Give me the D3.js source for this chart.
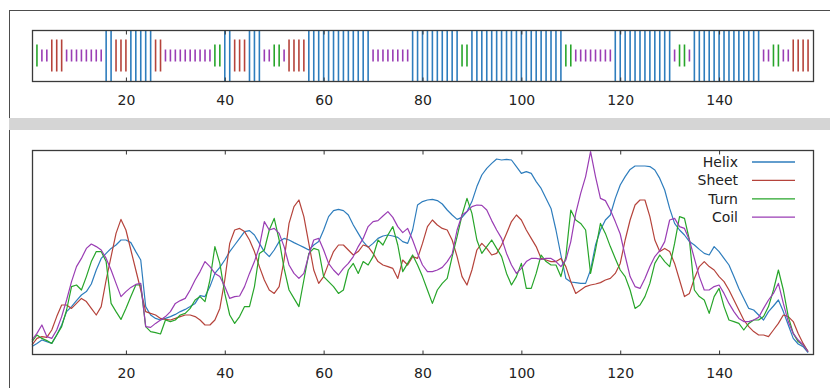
<!DOCTYPE html>
<html>
<head>
<meta charset="utf-8">
<script src="https://cdn.jsdelivr.net/npm/d3@7"></script>
<style>
  body { margin: 0; background: #fff; }
  svg { display: block; font-family: "DejaVu Sans", sans-serif; }
</style>
</head>
<body>
<div id="chart"></div>
<script>
// residue axis ticks
const xTicks = [20, 40, 60, 80, 100, 120, 140]

// secondary structure per residue (H helix, E sheet, T turn, C coil, - none)
const secStruct = ("-TCCEEECCC" + "CCCCCHHEEE" + "HHHHHEECCC" + "CCCCCCCTTH" +
  "HEEEHHHCCT" + "TCEEEEHHHH" + "HHHHHHHHHC" + "CCCCCCCHHH" +
  "HHHHHHHTTH" + "HHHHHHHHHH" + "HHHHHHHHTT" + "CCCCCCCCHH" +
  "HHHHHHHHHH" + "CTTCHHHHHH" + "HHHHHHHHCC" + "TTCCEEEE").split("")

// propensity curves, one value per residue
const helix = [
  3.7,5.3,7,6.2,5.3,9.5,14.5,21.2,23.7,26.7,
  29.5,31.2,35,42,47.8,50.3,52.8,54.5,57,57,
  55.7,51.2,47,23.7,19.5,17.8,17,17.8,18.7,19.8,
  21.2,22.3,23.7,25.3,29.2,28.7,33.7,40.3,43.3,47,
  51.2,54.5,57.8,61.2,61.7,59.5,55.3,51.2,48.7,52,
  56.2,57.8,57,55.7,54.5,53.3,52,54.5,56.2,62,
  68.7,71.7,72.3,71.7,69.5,64.5,60.3,56.2,53.3,55.3,
  57.8,59,59.5,59,58.3,56.2,55.3,62,74.5,76.2,
  77,77.3,76.7,75,72,69.5,67.3,68.3,71.2,76.2,
  83.7,89.5,92.8,95.3,97.5,97,97.3,97,93.7,90.3,
  91.2,90.3,86.2,82.8,77.8,72.8,62,49.5,37.8,36,
  35.7,35.3,35.3,42,54.5,62,67,69.5,77.8,84.5,
  88.7,92.3,94,94,94,93.7,92,87.8,82,72.8,
  65.3,62,59.5,56.2,54.5,52.3,50.3,49.5,53.7,51.2,
  47.8,44.5,38.7,32.8,27.8,22.8,22,19.5,17,21.2,
  24,27,21.2,14.5,7.8,5,3.7,0.7]

const sheet = [
  4.5,7.8,8.7,8.3,12,18.7,24.5,24.5,22.8,25.3,
  27.8,26.2,22.8,19.5,23.7,37,48.7,60.3,67.3,62,
  52,42,32,21.2,20.3,19.5,17.8,17.3,17,17.8,
  18.7,19.5,19.5,18.7,17,14.5,14.5,17,22.8,37,
  55.3,62,62.8,61.2,57,51.2,43.7,37,32,30.3,
  33.7,47,65.3,73.7,77,68.7,55.3,42,35.3,38.7,
  45.3,51.2,54.5,54.5,52,49.5,51.2,54.5,53.7,50.3,
  46.2,44.5,43.7,42.8,37.8,47,44.5,48.7,47.8,55.3,
  63.7,67,64.5,62.8,62,57,48.7,38.7,34.5,42,
  52,55.3,52.8,49.5,50.3,54.5,60.3,66.2,69.5,67,
  62,57.8,53.7,47.8,47,46.2,46.2,47.8,43.7,36.2,
  30.3,32,33.7,34.5,35,35.7,37,37.8,40.3,45.3,
  57,67,74.5,77,77,68.7,57,51.2,52.8,51.2,
  45.3,37,28.7,30.3,37.8,43.7,46.2,43.7,42,38.7,
  36.2,32,27,22,17,13.7,11.2,9.5,9.5,8.7,
  12,15.3,19.5,18.7,16.2,10.3,5.3,1.2]

const turn = [
  6.2,9.5,7.8,6.7,5.3,9.5,13.7,22,33.7,34.5,
  32,38.7,46.2,51.2,51.2,46.2,25.3,21.2,17.3,22.8,
  28.7,34.5,34.5,13.7,11.2,10.7,10,17,16.2,17,
  19.5,20.3,22.8,27,28.7,26.2,37,53.7,45.3,30.3,
  19.5,15.3,18.7,23.7,23.7,33.7,50.3,52,62,67.8,
  57,42.8,32,27.8,23.7,37,50.3,52.8,52,38.7,
  36.2,33.7,30.3,32,42,45.3,40.3,46.2,44.5,48.7,
  57,54.5,59.5,63.7,54.5,41.2,45.3,49.5,44.5,38.7,
  32,25.3,32,35.3,37.8,48.7,58.7,69.5,77.8,70.3,
  57,50.3,53.7,57,52.8,48.7,40.3,34.5,38.7,45.3,
  32.8,32.8,40.3,49.5,46.2,44.5,44.5,38.7,48.7,72,
  67,65.3,62,40.3,52,65.3,60.3,53.7,47.8,42,
  38.7,32,22.8,24.5,28.7,35.3,45.3,49.5,46.2,43.7,
  55.3,68.7,67.8,57,32,28.7,27,20.3,28.7,32.8,
  23.7,17,16.2,15.3,12,15.3,17,17,18.7,23.7,
  32,42,32,18.7,10.3,6.2,4.5,1.2]

const coil = [
  7,10.3,14.5,8.7,7.8,12,18.7,27,36.2,43.7,
  47.8,52.8,55,53.7,52,47.8,42,35.3,28.7,31.2,
  33.3,34.8,35.3,13.7,13.3,15.3,17,18.7,21.2,25.3,
  26.7,27.8,32,37,41.2,46.2,43.7,40.3,38.7,33.7,
  27.8,28.7,29,33.7,40.3,46.2,53.7,66.2,62,62.8,
  60.3,53.7,44.5,40.3,37.8,40.3,49.5,57,57.8,52,
  45.3,42,39.5,42.8,45.3,48.7,53.7,57.8,63.7,66.2,
  66.7,69,71.2,68.3,63.7,60.7,62.8,57,50.3,44.5,
  41.2,41.2,42,43.3,46.2,50,62,69.5,71.2,73.7,
  74.5,74.3,72,66.7,62,57.8,50.3,44.5,40.3,42.8,
  46.2,47.8,47.8,47.3,47.8,47.8,46.2,43.7,47,56.2,
  70.3,80.3,88.7,101.2,88.7,77.8,76.7,72,66.2,60,
  49,38.7,33.7,32.8,37.8,43.7,48.7,51.7,56.2,67,
  67.8,63.7,62.8,57,47.8,38.7,32,32,33.7,34.5,
  30.3,25.3,21.2,17.8,16.2,16.2,17,18.3,22.8,27,
  30.3,35.3,25.3,16.2,10.3,7,4.5,1.2]

const seriesNames = ["Helix", "Sheet", "Turn", "Coil"]
const seriesCodes = ["H", "E", "T", "C"]
const seriesValues = [helix, sheet, turn, coil]

const colors = {H: "#2e7dbd", E: "#b5433b", T: "#27a52a", C: "#9a3db4"}
const barHalf = {H: 25.5, E: 16, T: 11, C: 6}

const width = 830
const height = 388
const strip = {top: 30, bottom: 81}
const plot = {top: 150, bottom: 354}
const left = 32, right = 813

const svg = d3.select("#chart").append("svg")
    .attr("width", width)
    .attr("height", height)

// window-like frames and the grey splitter between panels
svg.append("rect")
    .attr("x", 9.5).attr("y", 10.5)
    .attr("width", 840).attr("height", 108)
    .attr("fill", "#fff").attr("stroke", "#4d4d4d")
svg.append("rect")
    .attr("x", 9).attr("y", 118)
    .attr("width", 830).attr("height", 12)
    .attr("fill", "#d5d5d5")
svg.append("line")
    .attr("x1", 9.5).attr("x2", 9.5)
    .attr("y1", 130).attr("y2", height)
    .attr("stroke", "#4d4d4d")

const x = d3.scaleLinear().domain([1, 159]).range([left, right])
const y = d3.scaleLinear().domain([0, 102]).range([plot.bottom, plot.top])

// --- top panel: secondary structure strip
const stripMid = (strip.top + strip.bottom) / 2
svg.append("g")
    .attr("stroke-width", 1.6)
  .selectAll("line")
  .data(secStruct.map((s, i) => ({res: i + 1, s})).filter(d => d.s !== "-"))
  .join("line")
    .attr("x1", d => x(d.res)).attr("x2", d => x(d.res))
    .attr("y1", d => stripMid - barHalf[d.s])
    .attr("y2", d => stripMid + barHalf[d.s])
    .attr("stroke", d => colors[d.s])

function frame(top, bottom) {
  svg.append("rect")
      .attr("x", left + 0.5).attr("y", top + 0.5)
      .attr("width", right - left).attr("height", bottom - top)
      .attr("fill", "none")
      .attr("stroke", "#3a3a3a")
      .attr("stroke-width", 1.3)

  svg.append("g")
      .attr("transform", `translate(0,${top + 0.5})`)
      .call(d3.axisTop(x).tickValues(xTicks).tickSize(-4).tickFormat(""))
      .call(g => g.select(".domain").remove())
      .call(g => g.selectAll(".tick line").attr("stroke", "#333"))

  svg.append("g")
      .attr("transform", `translate(0,${bottom + 0.5})`)
      .call(d3.axisBottom(x).tickValues(xTicks).tickSize(-4).tickPadding(14))
      .call(g => g.select(".domain").remove())
      .call(g => g.selectAll(".tick line").attr("stroke", "#333"))
      .call(g => g.selectAll(".tick text")
          .attr("font-family", "DejaVu Sans, sans-serif")
          .attr("font-size", 14)
          .attr("fill", "#222"))
}

frame(strip.top, strip.bottom)

// --- bottom panel: propensity curves
const line = d3.line()
    .x((d, i) => x(i + 1))
    .y(d => y(d))

svg.append("g")
    .attr("fill", "none")
    .attr("stroke-width", 1.2)
    .attr("stroke-linejoin", "round")
  .selectAll("path")
  .data(seriesValues)
  .join("path")
    .attr("stroke", (d, i) => colors[seriesCodes[i]])
    .attr("d", line)

frame(plot.top, plot.bottom)

// legend
const legend = svg.append("g")
  .selectAll("g")
  .data(seriesNames)
  .join("g")
    .attr("transform", (d, i) => `translate(0,${162 + i * 18.4})`)

legend.append("text")
    .attr("x", 738)
    .attr("dy", "0.35em")
    .attr("text-anchor", "end")
    .attr("font-size", 14)
    .attr("fill", "#222")
    .text(d => d)

legend.append("line")
    .attr("x1", 752).attr("x2", 795)
    .attr("stroke-width", 1.3)
    .attr("stroke", (d, i) => colors[seriesCodes[i]])
</script>
</body>
</html>
